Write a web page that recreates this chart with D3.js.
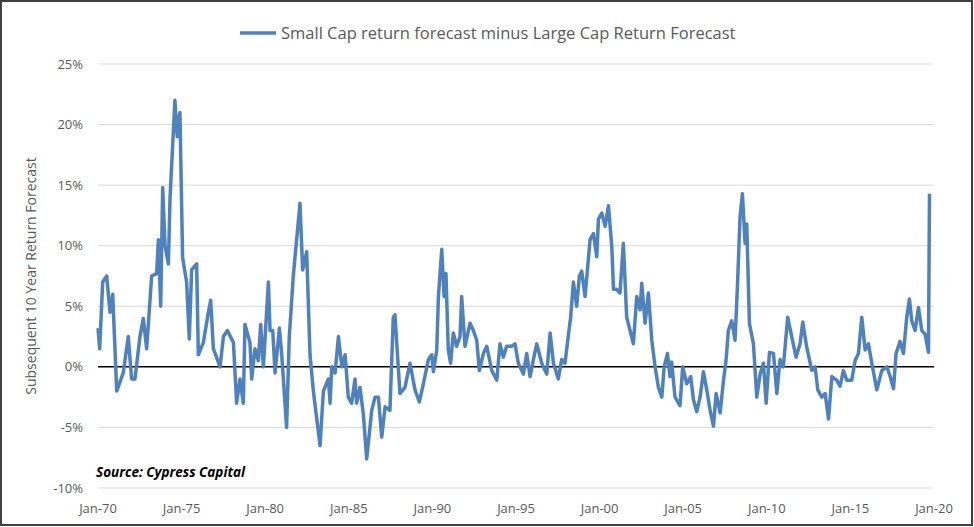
<!DOCTYPE html>
<html>
<head>
<meta charset="utf-8">
<script src="https://cdn.jsdelivr.net/npm/d3@7"></script>
<style>
  body { margin: 0; background: #fff; }
  svg { font-family: "Open Sans", "Liberation Sans", sans-serif; }
</style>
</head>
<body>
<svg id="chart" width="974" height="527"></svg>
<script>
// values (year as decimal, spread in %)
var years = [1970.0,1970.1,1970.28,1970.52,1970.72,1970.88,1971.12,1971.51,1971.81,1972.01,1972.21,1972.51,1972.71,1972.91,
  1973.21,1973.51,1973.61,1973.75,1973.87,1974.01,1974.21,1974.31,1974.6,1974.74,1974.9,1975.06,1975.3,1975.46,1975.6,1975.9,
  1976.0,1976.3,1976.6,1976.74,1976.9,1977.3,1977.5,1977.74,1978.1,1978.29,1978.49,1978.69,1978.79,1979.09,1979.19,1979.39,
  1979.59,1979.73,1979.89,1980.19,1980.29,1980.45,1980.59,1980.85,1980.99,1981.28,1981.44,1981.68,1981.88,1982.08,1982.24,
  1982.48,1982.68,1982.88,1983.28,1983.48,1983.78,1983.88,1983.98,1984.18,1984.38,1984.58,1984.78,1984.97,1985.17,1985.37,
  1985.47,1985.67,1985.87,1986.07,1986.37,1986.57,1986.77,1986.97,1987.17,1987.46,1987.66,1987.76,1988.06,1988.36,1988.66,
  1988.96,1989.22,1989.46,1989.76,1989.96,1990.06,1990.26,1990.36,1990.56,1990.7,1990.81,1990.95,1991.09,1991.25,1991.45,
  1991.65,1991.75,1991.95,1992.25,1992.45,1992.65,1992.81,1993.05,1993.25,1993.55,1993.85,1994.04,1994.24,1994.44,1994.74,
  1994.94,1995.14,1995.44,1995.64,1995.84,1996.04,1996.24,1996.54,1996.84,1997.04,1997.24,1997.53,1997.73,1997.93,1998.13,
  1998.27,1998.43,1998.63,1998.79,1998.93,1999.13,1999.43,1999.63,1999.83,1999.93,2000.13,2000.33,2000.53,2000.73,2000.83,
  2001.02,2001.22,2001.42,2001.62,2001.82,2002.02,2002.22,2002.42,2002.52,2002.72,2002.92,2003.12,2003.32,2003.52,
  2003.72,2003.86,2004.06,2004.21,2004.31,2004.51,2004.81,2004.97,2005.21,2005.45,2005.61,2005.81,2006.01,2006.21,2006.41,
  2006.61,2006.81,2006.97,2007.21,2007.41,2007.56,2007.7,2007.9,2008.1,2008.24,2008.4,2008.54,2008.7,2008.8,2008.96,2009.2,
  2009.4,2009.6,2009.8,2009.96,2010.16,2010.4,2010.6,2010.79,2010.99,2011.25,2011.49,2011.75,2011.99,2012.15,2012.39,2012.69,
  2012.89,2013.05,2013.29,2013.49,2013.69,2013.89,2014.18,2014.38,2014.58,2014.78,2015.08,2015.28,2015.48,2015.68,2015.88,
  2016.08,2016.28,2016.58,2016.88,2017.18,2017.38,2017.58,2017.73,2017.97,2018.17,2018.37,2018.53,2018.67,2018.87,2019.07,
  2019.27,2019.47,2019.67,2019.73];
var spread = [3.2,1.5,7,7.5,4.5,6,-2,-0.5,2.5,-1,-1,2.5,4,1.5,
  7.5,7.7,10.5,5,14.8,10,8.5,14,22,19,21,9,7,2.3,8,8.5,
  1,2,4.5,5.5,1.5,0,2.5,3,2,-3,-1,-3,3.5,2,-1,1.5,
  0.5,3.5,0,7,3,3,-0.5,3.2,1,-5,2.5,7.5,10.5,13.5,8,
  9.5,1,-2,-6.5,-2,-1,-3,0,-0.5,2.5,0,1,-2.5,-3,-1,
  -3,-1.7,-3.9,-7.6,-3.6,-2.5,-2.5,-5.8,-3.3,-3.6,4.1,4.3,-2.2,-1.7,0.3,
  -1.9,-2.9,-1.4,0.6,1,-0.4,1.4,5.8,9.7,5.8,7.7,1.4,0.3,2.8,1.7,
  2.5,5.8,1.7,3.6,3,2.2,-0.3,1.1,1.7,-0.3,-1.1,1.9,0.8,1.7,1.7,
  1.9,0.3,-0.6,1.1,-0.8,0.6,1.9,0.3,-0.6,2.8,0.3,-1,0.6,0.3,2.6,
  4.1,7,5,7.5,7.9,5.8,10.5,11,9.1,12.2,12.7,11.6,13.3,9.9,6.4,
  6.4,6.1,10.2,4.1,3,1.9,5.8,4.7,6.9,3.6,6.1,2.2,0,-1.7,
  -2.5,0,1.1,-0.8,0.4,-2.5,-3.2,0,-1.4,-0.8,-2.7,-3.7,-2.5,-0.4,-1.9,
  -3.6,-4.9,-2.2,-3.8,-1.1,0.5,3,3.8,2.2,6.5,12.4,14.3,10.2,11.8,3.6,1.9,
  -2.5,-0.6,0.3,-3,1.2,1.1,-2.2,0.6,0,4.1,2.5,0.8,1.9,3.7,1.6,-0.3,
  0,-1.9,-2.5,-2.2,-4.3,-0.8,-1.1,-1.6,-0.3,-1.1,-1.1,0.5,1.1,4.1,1.4,
  1.9,0.3,-1.9,-0.3,0,-0.8,-1.8,1.1,2.1,1.1,4.1,5.6,3.8,3,4.9,
  3,2.7,1.2,14.3];
var xTicks = [1970,1975,1980,1985,1990,1995,2000,2005,2010,2015,2020];
var yTicks = [-10,-5,0,5,10,15,20,25];
var seriesName = "Small Cap return forecast minus Large Cap Return Forecast";

var data = years.map(function(y, i) { return {year: y, value: spread[i]}; });

var svg = d3.select("#chart");
var blue = "#4f81bd";

// outer frame
svg.append("rect").attr("x", 1).attr("y", 1).attr("width", 971).attr("height", 524)
  .attr("fill", "#fff").attr("stroke", "#404040").attr("stroke-width", 2);

var x = d3.scaleLinear().domain([1970, 2020]).range([98, 934]);
var y = d3.scaleLinear().domain([-10, 25]).range([488, 64]);

// gridlines
svg.append("g").selectAll("line").data(yTicks).join("line")
  .attr("x1", 98).attr("x2", 934)
  .attr("y1", d => y(d)).attr("y2", d => y(d))
  .attr("stroke", d => d === 0 ? "#000" : "#d9d9d9")
  .attr("stroke-width", d => d === 0 ? 1.5 : 1);

// y labels
svg.append("g").selectAll("text").data(yTicks).join("text")
  .attr("x", 83).attr("y", d => y(d)).attr("dy", "0.35em")
  .attr("text-anchor", "end").attr("fill", "#595959").attr("font-size", 13)
  .text(d => d + "%");

// x labels
svg.append("g").selectAll("text").data(xTicks).join("text")
  .attr("x", d => x(d)).attr("y", 513)
  .attr("text-anchor", "middle").attr("fill", "#595959").attr("font-size", 13)
  .text(d => "Jan-" + String(d % 100).padStart(2, "0"));

// y axis title
svg.append("text")
  .attr("transform", "translate(36," + y(7.5) + ") rotate(-90)")
  .attr("text-anchor", "middle").attr("fill", "#595959").attr("font-size", 14)
  .text("Subsequent 10 Year Return Forecast");

// the line
svg.append("path").datum(data)
  .attr("fill", "none").attr("stroke", blue).attr("stroke-width", 3.5)
  .attr("stroke-linejoin", "round")
  .attr("d", d3.line().x(d => x(d.year)).y(d => y(d.value)));

// legend
svg.append("line").attr("x1", 240).attr("x2", 276).attr("y1", 33).attr("y2", 33)
  .attr("stroke", blue).attr("stroke-width", 3.5);
svg.append("text").attr("x", 281).attr("y", 33).attr("dy", "0.35em")
  .attr("fill", "#595959").attr("font-size", 16.5).text(seriesName);

// source note
svg.append("text").attr("x", 96).attr("y", 477)
  .attr("font-size", 13.5).attr("font-style", "italic").attr("font-weight", "bold")
  .attr("fill", "#000").text("Source: Cypress Capital");
</script>
</body>
</html>
